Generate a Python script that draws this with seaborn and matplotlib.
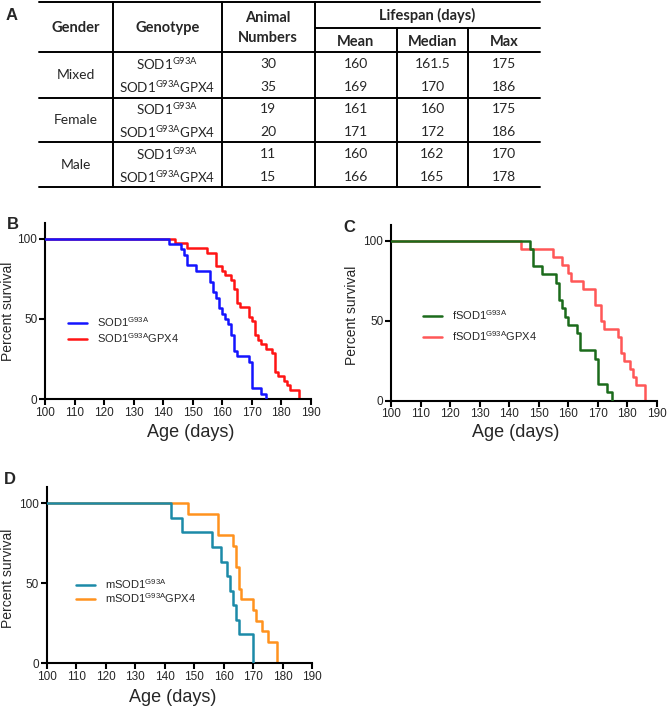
import matplotlib
matplotlib.use("Agg")
import matplotlib.pyplot as plt
import pandas as pd
import seaborn as sns

# ---- table A ----
genders = ["Mixed", "Female", "Male"]
genotypes = ["SOD1$\\mathregular{^{G93A}}$", "SOD1$\\mathregular{^{G93A}}$GPX4"] * 3
animal_n = ["30", "35", "19", "20", "11", "15"]
mean_life = ["160", "169", "161", "171", "160", "166"]
median_life = ["161.5", "170", "160", "172", "162", "165"]
max_life = ["175", "186", "175", "186", "170", "178"]

# ---- survival curves: day of each drop, percent surviving after it ----
b_ctrl_days = [142, 146, 147, 148, 151, 156, 157, 158, 159, 160, 161, 162, 163, 164, 165, 169, 170, 173, 175]
b_ctrl_surv = [96.7, 93.3, 90, 83.3, 80, 73.3, 66.7, 63.3, 56.7, 53.3, 50, 46.7, 40, 30, 26.7, 23.3, 6.7, 3.3, 0]
b_gpx_days = [144, 148, 155, 158, 160, 161, 163, 164, 165, 166, 169, 170, 171, 172, 173, 175, 177, 178, 179, 181, 182, 183, 186]
b_gpx_surv = [97.1, 94.3, 91.4, 82.9, 80, 77.1, 74.3, 68.6, 60, 57.1, 51.4, 48.6, 40, 37.1, 34.3, 31.4, 28.6, 17.1, 14.3, 11.4, 8.6, 5.7, 0]

c_ctrl_days = [147, 148, 151, 156, 157, 158, 159, 160, 163, 164, 169, 170, 173, 175]
c_ctrl_surv = [94.7, 84.2, 78.9, 73.7, 63.2, 57.9, 52.6, 47.4, 42.1, 31.6, 26.3, 10.5, 5.3, 0]
c_gpx_days = [144, 155, 158, 160, 161, 165, 169, 171, 172, 177, 178, 179, 181, 182, 183, 186]
c_gpx_surv = [95, 90, 85, 80, 75, 70, 60, 50, 45, 40, 30, 25, 20, 15, 10, 0]

d_ctrl_days = [142, 146, 156, 159, 161, 162, 163, 164, 165, 170]
d_ctrl_surv = [90.9, 81.8, 72.7, 63.6, 54.5, 45.5, 36.4, 27.3, 18.2, 0]
d_gpx_days = [148, 158, 163, 164, 165, 166, 170, 171, 173, 175, 178]
d_gpx_surv = [93.3, 80, 73.3, 60, 46.7, 40, 33.3, 26.7, 20, 13.3, 0]

sns.set_theme(style="ticks")
plt.rcParams["font.family"] = ["Liberation Sans", "DejaVu Sans"]
plt.rcParams["axes.edgecolor"] = "black"
plt.rcParams["axes.linewidth"] = 1.5

fig = plt.figure(figsize=(6.67, 7.07), dpi=100)

# ---------------- table ----------------
tab = fig.add_axes([0, 1 - 195 / 707, 1, 195 / 707])
tab.set_xlim(0, 667)
tab.set_ylim(195, 0)
tab.axis("off")

left, right = 39, 540
for y in [1.7, 52, 97.5, 142, 187]:
    tab.plot([left, right], [y, y], color="black", lw=1.4)
tab.plot([315, right], [27.5, 27.5], color="black", lw=1.4)
for x in [113, 221.7, 315]:
    tab.plot([x, x], [1.7, 187], color="black", lw=1.4)
for x in [396.7, 468.3]:
    tab.plot([x, x], [27.5, 187], color="black", lw=1.4)

tfont = ["Lato", "DejaVu Sans"]
hdr = dict(ha="center", va="center", fontsize=10.5, fontweight="bold", family=tfont)
tab.text(76, 28, "Gender", **hdr)
tab.text(167.5, 28, "Genotype", **hdr)
tab.text(268, 18, "Animal", **hdr)
tab.text(268, 38, "Numbers", **hdr)
tab.text(427.5, 15, "Lifespan (days)", **hdr)
tab.text(356, 41.5, "Mean", **hdr)
tab.text(432.5, 41.5, "Median", **hdr)
tab.text(504, 41.5, "Max", **hdr)

cell = dict(ha="center", va="center", fontsize=10, family=tfont)
row_y = [64, 86.7, 109, 131.7, 154, 176.7]
for i, g in enumerate(genders):
    tab.text(76, (row_y[2 * i] + row_y[2 * i + 1]) / 2, g, **cell)
for i, y in enumerate(row_y):
    tab.text(167, y, genotypes[i], ha="center", va="center", fontsize=9.6, family=tfont)
    tab.text(268, y, animal_n[i], **cell)
    tab.text(356, y, mean_life[i], **cell)
    tab.text(432.5, y, median_life[i], **cell)
    tab.text(504, y, max_life[i], **cell)

fig.text(12 / 667, 1 - 15 / 707, "A", fontsize=12, fontweight="bold", ha="center", va="center")


# ---------------- survival panels ----------------
def survival_panel(rect, series, legend_anchor, spacing, xlab_xy, ylab_xy):
    ax = fig.add_axes(rect)
    # control curve sits on top of the GPX4 curve where they overlap
    for (days, surv, color, label), z in zip(series, [3, 2]):
        sns.lineplot(x=[100] + days, y=[100] + surv, drawstyle="steps-post",
                     color=color, lw=1.8, ax=ax, label=label, zorder=z)
    ax.set_xlim(100, 190)
    ax.set_ylim(0, 110)
    ax.set_xticks(range(100, 191, 10))
    ax.set_yticks([0, 50, 100])
    ax.tick_params(axis="both", labelsize=8.5, width=1.5, length=4, pad=1.5, color="black")
    sns.despine(ax=ax)
    ax.set_xlabel("Age (days)", fontsize=13)
    ax.set_ylabel("Percent survival", fontsize=10)
    ax.xaxis.set_label_coords(*xlab_xy)
    ax.yaxis.set_label_coords(*ylab_xy)
    ax.legend(loc="upper left", bbox_to_anchor=legend_anchor, frameon=False,
              fontsize=8, handlelength=1.7, handletextpad=0.9, borderpad=0,
              borderaxespad=0, labelspacing=spacing)
    return ax


sup = "$\\mathregular{^{G93A}}$"
survival_panel([45 / 667, 308 / 707, 265.7 / 667, 176.3 / 707],
               [(b_ctrl_days, b_ctrl_surv, "#1414ff", "SOD1" + sup),
                (b_gpx_days, b_gpx_surv, "#ff1414", "SOD1" + sup + "GPX4")],
               (0.087, 0.475), 0.15, (0.55, -0.139), (-0.112, 0.5))
survival_panel([391 / 667, 306.3 / 707, 265.7 / 667, 176 / 707],
               [(c_ctrl_days, c_ctrl_surv, "#1b6b1b", "fSOD1" + sup),
                (c_gpx_days, c_gpx_surv, "#ff5757", "fSOD1" + sup + "GPX4")],
               (0.119, 0.527), 0.7, (0.47, -0.131), (-0.122, 0.487))
survival_panel([46.7 / 667, 43.7 / 707, 265.6 / 667, 176 / 707],
               [(d_ctrl_days, d_ctrl_surv, "#1c8aa8", "mSOD1" + sup),
                (d_gpx_days, d_gpx_surv, "#ff921e", "mSOD1" + sup + "GPX4")],
               (0.11, 0.49), 0.05, (0.474, -0.145), (-0.118, 0.485))

fig.text(13 / 667, 1 - 224 / 707, "B", fontsize=12, fontweight="bold", ha="center", va="center")
fig.text(349 / 667, 1 - 228 / 707, "C", fontsize=12, fontweight="bold", ha="center", va="center")
fig.text(10 / 667, 1 - 480 / 707, "D", fontsize=12, fontweight="bold", ha="center", va="center")

fig.savefig("out.png", dpi=100)
